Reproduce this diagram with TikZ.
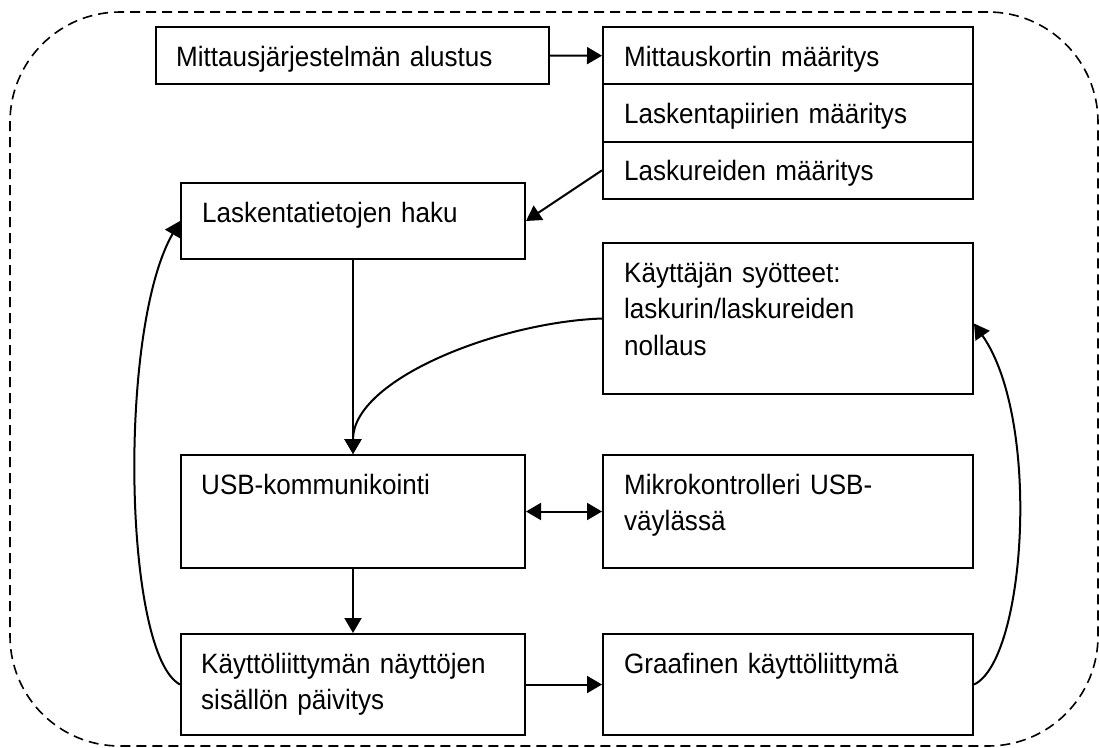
\documentclass[tikz,border=0pt]{standalone}
\usepackage{fontspec}
\setmainfont{Liberation Sans}[FakeStretch=0.93]
\usetikzlibrary{arrows.meta}
\begin{document}
\begin{tikzpicture}[x=1pt,y=1pt,
  box/.style 2 args={draw, line width=2pt, rectangle, inner sep=0pt,
    minimum width=#1, minimum height=#2},
  lbl/.style={anchor=base west, inner sep=0pt, text width=340pt, align=left,
    font=\fontsize{28}{36.5}\selectfont},
  arr/.style={line width=2pt, -{Triangle[length=15pt,width=17pt]}},
  arrboth/.style={line width=2pt,
    {Triangle[length=15pt,width=17pt]}-{Triangle[length=15pt,width=17pt]}},
  frame/.style={draw, line width=1.6pt, dash pattern=on 10pt off 6pt,
    rounded corners=110pt, inner sep=0pt}]
\useasboundingbox (0,0) rectangle (1099,-747);

% dashed outer frame
\node[frame, minimum width=1088pt, minimum height=734pt] (frame) at (554,-379) {};

% boxes
\node[box={393pt}{57pt}] (alustus) at (352.5,-55.5) {};
\node[box={370pt}{57.33pt}] (c1) at (788,-55.67) {};
\node[box={370pt}{57.33pt}] (c2) at (788,-113) {};
\node[box={370pt}{57.33pt}] (c3) at (788,-170.33) {};
\node[box={344pt}{76pt}] (haku) at (353,-221) {};
\node[box={370pt}{151pt}] (syot) at (788,-318.5) {};
\node[box={344pt}{113pt}] (usb) at (353,-511.5) {};
\node[box={370pt}{113pt}] (mikro) at (788,-511.5) {};
\node[box={344pt}{101pt}] (kay) at (353,-684.5) {};
\node[box={370pt}{101pt}] (graaf) at (788,-684.5) {};

% texts
\node[lbl] (alustus-t) at ([shift={(21pt,-40pt)}]alustus.north west) {Mittausjärjestelmän alustus};
\node[lbl] (c1-t) at ([shift={(22pt,-40pt)}]c1.north west) {Mittauskortin määritys};
\node[lbl] (c2-t) at ([shift={(22pt,-40pt)}]c2.north west) {Laskentapiirien määritys};
\node[lbl] (c3-t) at ([shift={(22pt,-40pt)}]c3.north west) {Laskureiden määritys};
\node[lbl] (haku-t) at ([shift={(22pt,-40pt)}]haku.north west) {Laskentatietojen haku};
\node[lbl] (syot-t) at ([shift={(22pt,-40pt)}]syot.north west) {Käyttäjän syötteet:\\laskurin/laskureiden\\nollaus};
\node[lbl] (usb-t) at ([shift={(21pt,-40pt)}]usb.north west) {USB-kommunikointi};
\node[lbl] (mikro-t) at ([shift={(22pt,-40pt)}]mikro.north west) {Mikrokontrolleri USB-\\väylässä};
\node[lbl] (kay-t) at ([shift={(21pt,-40pt)}]kay.north west) {Käyttöliittymän näyttöjen\\sisällön päivitys};
\node[lbl] (graaf-t) at ([shift={(22pt,-40pt)}]graaf.north west) {Graafinen käyttöliittymä};

% connectors
\draw[arr] (alustus.east) -- (c1.west);
\draw[arr] (c3.west) -- (haku.east);
\draw[arr] (haku.south) -- (usb.north);
\draw[arr] (syot.west) to[out=182, out distance=103pt, in=90, in distance=75pt] (usb.north);
\draw[arrboth] (usb.east) -- (mikro.west);
\draw[arr] (usb.south) -- (kay.north);
\draw[arr] (kay.east) -- (graaf.west);
\draw[arr] (kay.west) to[out=152, out distance=64pt, in=-120, in distance=125pt] (haku.west);
\draw[arr] (graaf.east) to[out=25, out distance=57pt, in=-55, in distance=118pt] ([yshift=-5pt]syot.east);
\end{tikzpicture}
\end{document}
